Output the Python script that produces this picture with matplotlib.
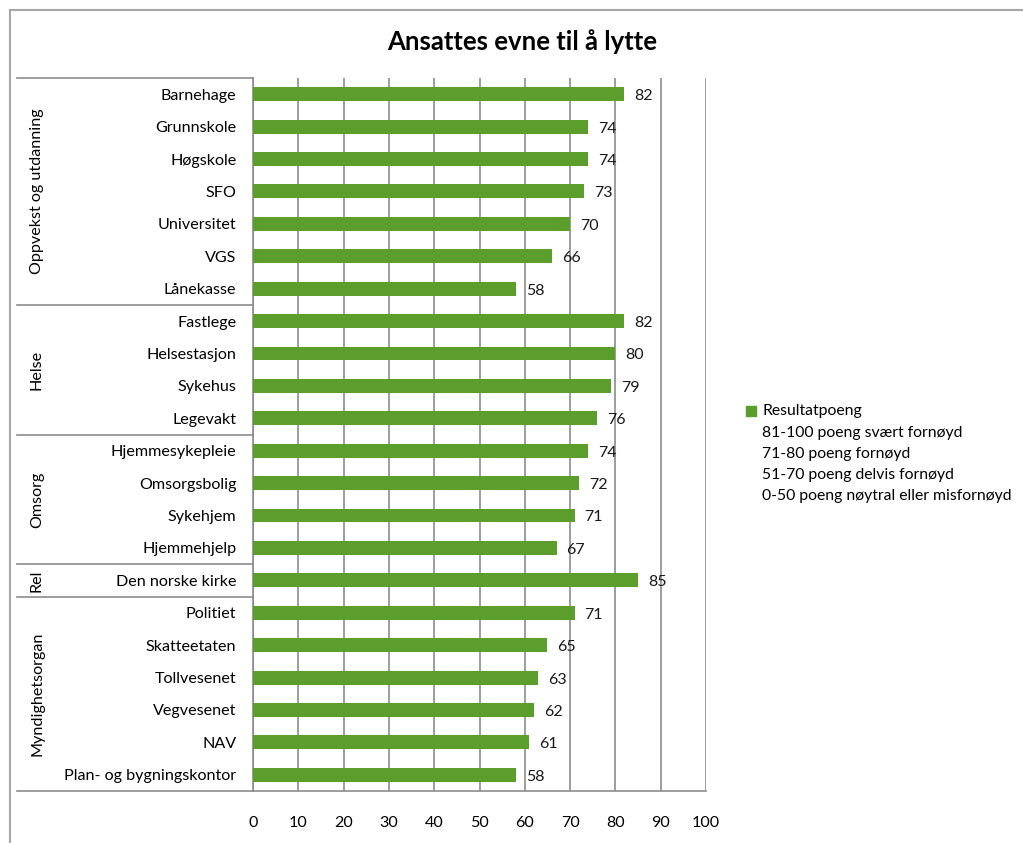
import numpy as np
from matplotlib import pyplot as plt
from matplotlib.lines import Line2D

# Data
kategorier = ["Barnehage", "Grunnskole", "Høgskole", "SFO", "Universitet", "VGS", "Lånekasse",
              "Fastlege", "Helsestasjon", "Sykehus", "Legevakt",
              "Hjemmesykepleie", "Omsorgsbolig", "Sykehjem", "Hjemmehjelp",
              "Den norske kirke",
              "Politiet", "Skatteetaten", "Tollvesenet", "Vegvesenet", "NAV", "Plan- og bygningskontor"]
poeng = [82, 74, 74, 73, 70, 66, 58,
         82, 80, 79, 76,
         74, 72, 71, 67,
         85,
         71, 65, 63, 62, 61, 58]
grupper = ["Oppvekst og utdanning", "Helse", "Omsorg", "Rel", "Myndighetsorgan"]
gruppe_antall = [7, 4, 4, 1, 6]
legend_linjer = ["81-100 poeng svært fornøyd", "71-80 poeng fornøyd",
                 "51-70 poeng delvis fornøyd", "0-50 poeng nøytral eller misfornøyd"]

plt.rcParams['font.family'] = ['Lato', 'DejaVu Sans']
W, H = 1023, 843
fig = plt.figure(figsize=(W / 100, H / 100), dpi=100)

grønn = "#5b9e2b"
grå = "#8c8c8c"

# plottomraade
x0, x1, ytop, ybot = 253, 706, 78, 791
ax = fig.add_axes([x0 / W, 1 - ybot / H, (x1 - x0) / W, (ybot - ytop) / H])

y = np.arange(len(kategorier))
ax.barh(y, poeng, height=0.43, color=grønn, zorder=3)
for yi, v in zip(y, poeng):
    ax.text(v + 2.2, yi + 0.06, str(v), va="center", ha="left", fontsize=11.5, color="#1a1a1a", zorder=4)

ax.set_xlim(0, 100)
ax.set_ylim(len(kategorier) - 0.5, -0.5)
ax.set_xticks(range(0, 101, 10))
ax.set_yticks(y)
ax.set_yticklabels(kategorier, fontsize=11.6)
ax.tick_params(axis="y", length=0, pad=12)
ax.tick_params(axis="x", length=0, pad=18, labelsize=11.6)
ax.grid(axis="x", color=grå, linewidth=1.2, zorder=0)
for s in ["top", "right"]:
    ax.spines[s].set_visible(False)
for s in ["left", "bottom"]:
    ax.spines[s].set_color(grå)
    ax.spines[s].set_linewidth(1.2)

# gruppe-etiketter og skillelinjer
venstre = -(x0 - 17) / (x1 - x0)
trans = ax.get_yaxis_transform()
grenser = np.concatenate([[0], np.cumsum(gruppe_antall)]) - 0.5
for g in grenser:
    ax.add_line(Line2D([venstre, 0], [g, g], transform=trans, color=grå, lw=1.2, clip_on=False))
for navn, a, b in zip(grupper, grenser[:-1], grenser[1:]):
    ax.text(-(x0 - 37) / (x1 - x0), (a + b) / 2, navn, transform=trans, rotation=90,
            ha="center", va="center", fontsize=11.6)

# tittel
fig.text(522 / W, 1 - 42 / H, "Ansattes evne til å lytte", ha="center", va="center",
         fontsize=18.5, fontweight="bold")

# forklaring
fig.patches.append(plt.Rectangle((746 / W, 1 - 416 / H), 10 / W, 10 / H, transform=fig.transFigure,
                                 color=grønn))
fig.text(762 / W, 1 - 411 / H, "Resultatpoeng", va="center", fontsize=11.3)
for i, t in enumerate(legend_linjer):
    fig.text(762 / W, 1 - (433 + i * 21) / H, t, va="center", fontsize=11.3)

# ramme
fig.add_artist(Line2D([10 / W, 1], [1 - 9.5 / H] * 2, transform=fig.transFigure, color="#a6a6a6", lw=1.5))
fig.add_artist(Line2D([10 / W] * 2, [0, 1 - 9.5 / H], transform=fig.transFigure, color="#a6a6a6", lw=1.5))

plt.savefig("out.png", dpi=100)
